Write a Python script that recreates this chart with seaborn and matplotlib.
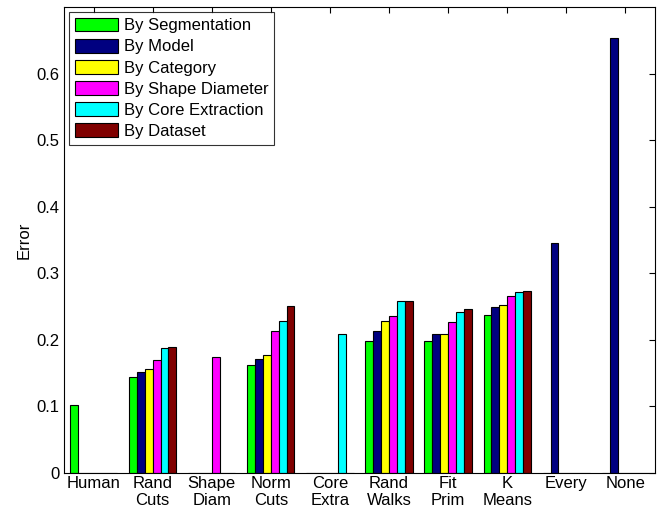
import pandas as pd
import numpy as np
import matplotlib
matplotlib.use('Agg')
import matplotlib.pyplot as plt
import seaborn as sns

# Datos
methods = ['Human', 'Rand\nCuts', 'Shape\nDiam', 'Norm\nCuts', 'Core\nExtra',
           'Rand\nWalks', 'Fit\nPrim', 'K\nMeans', 'Every', 'None']
series = ['By Segmentation', 'By Model', 'By Category', 'By Shape Diameter',
          'By Core Extraction', 'By Dataset']
by_segmentation = [0.102, 0.144, 0, 0.162, 0, 0.198, 0.198, 0.238, 0, 0]
by_model = [0, 0.152, 0, 0.171, 0, 0.213, 0.209, 0.250, 0.345, 0.654]
by_category = [0, 0.156, 0, 0.177, 0, 0.228, 0.209, 0.253, 0, 0]
by_shape_diameter = [0, 0.170, 0.175, 0.213, 0, 0.236, 0.227, 0.266, 0, 0]
by_core_extraction = [0, 0.188, 0, 0.228, 0.209, 0.259, 0.242, 0.272, 0, 0]
by_dataset = [0, 0.190, 0, 0.251, 0, 0.259, 0.246, 0.274, 0, 0]
colors = ['#00ff00', '#000080', '#ffff00', '#ff00ff', '#00ffff', '#800000']
yticks = [0, 0.1, 0.2, 0.3, 0.4, 0.5, 0.6]
ytick_labels = ['0', '0.1', '0.2', '0.3', '0.4', '0.5', '0.6']

values = [by_segmentation, by_model, by_category, by_shape_diameter,
          by_core_extraction, by_dataset]
rows = []
for s, vals in zip(series, values):
    for m, v in zip(methods, vals):
        rows.append({'method': m, 'by': s, 'error': v})
df = pd.DataFrame(rows)

sns.set_style('white')
plt.rcParams['font.family'] = ['Liberation Sans', 'DejaVu Sans']
plt.rcParams['font.size'] = 12
plt.rcParams['text.color'] = 'black'
plt.rcParams['axes.labelcolor'] = 'black'
plt.rcParams['xtick.color'] = 'black'
plt.rcParams['ytick.color'] = 'black'

fig = plt.figure(figsize=(6.64, 5.12), dpi=100)
ax = fig.add_axes([0.0964, 0.0762, 0.89, 0.91])

sns.barplot(data=df, x='method', y='error', hue='by', order=methods,
            hue_order=series, palette=colors, saturation=1,
            edgecolor='black', linewidth=0.8, width=0.8, ax=ax)

ax.set_xlim(-0.5, len(methods) - 0.5)
ax.set_ylim(0, 0.7)
ax.set_yticks(yticks)
ax.set_yticklabels(ytick_labels)
ax.set_xlabel('')
ax.set_ylabel('Error', fontsize=12)
ax.tick_params(direction='in', length=4, width=0.8, top=True, right=True,
               labelsize=12, color='black', pad=3)
ax.tick_params(axis='x', pad=2)
for sp in ax.spines.values():
    sp.set_color('black')
    sp.set_linewidth(0.8)

handles, labels = ax.get_legend_handles_labels()
leg = ax.legend(handles, labels, loc='upper left', bbox_to_anchor=(0.008, 0.99),
                frameon=True, fancybox=False, edgecolor='black',
                fontsize=12, handlelength=2.6, handleheight=0.9,
                labelspacing=0.33, handletextpad=0.35, borderpad=0.35,
                borderaxespad=0.0)
leg.get_frame().set_linewidth(0.8)

plt.savefig('out.png', dpi=100)
plt.close()
